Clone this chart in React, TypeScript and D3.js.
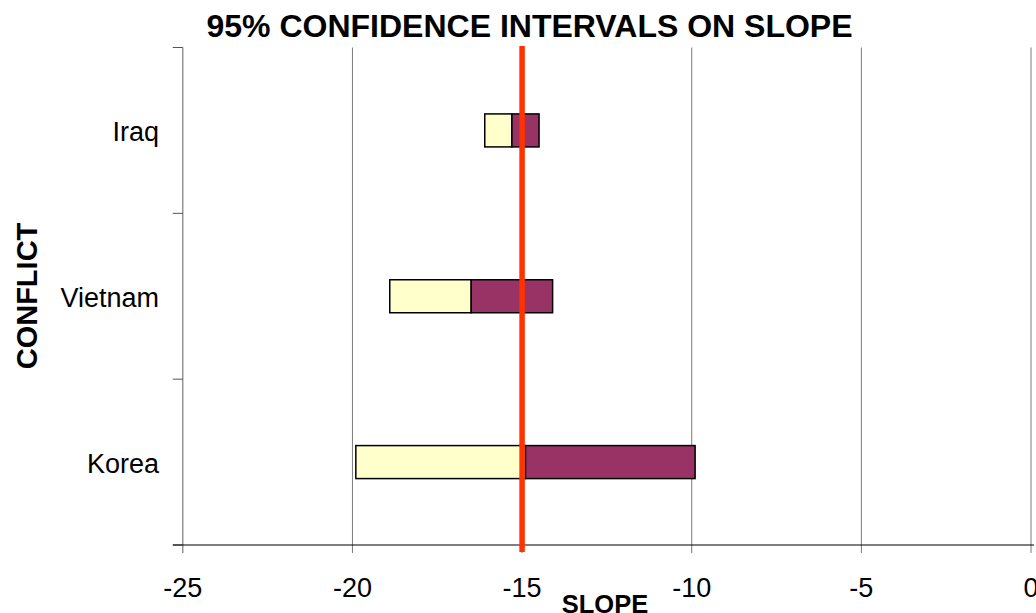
import React from "react";
import * as d3 from "d3";

const categories = ["Iraq", "Vietnam", "Korea"];
const lowerBound = [-16.1, -18.9, -19.9];
const pointEstimate = [-15.3, -16.5, -14.9];
const upperBound = [-14.5, -14.1, -9.9];
const referenceSlope = -15;
const xTicks = [-25, -20, -15, -10, -5, 0];

const W = 1036;
const H = 613;
const FONT = "'Liberation Sans', Arial, sans-serif";

export default function App() {
  const left = 182.8;
  const right = 1031;
  const top = 47.5;
  const bottom = 545;
  const x = d3.scaleLinear().domain([-25, 0]).range([left, right]);
  const y = d3.scaleBand<string>().domain(categories).range([top, bottom]).paddingInner(0).paddingOuter(0);
  const barH = 33;
  const bandEdges = d3.range(categories.length + 1).map((i) => top + i * y.step());

  return (
    <svg
      width={W}
      height={H}
      style={{ position: "absolute", left: 0, top: 0, background: "#fff", display: "block" }}
    >
      <rect x={0} y={0} width={W} height={H} fill="#fff" />
      {/* gridlines + x ticks */}
      {xTicks.slice(1).map((t) => (
        <line key={"g" + t} x1={x(t)} x2={x(t)} y1={top} y2={bottom + 8} stroke="#7a7a7a" strokeWidth={1} />
      ))}
      {/* y axis */}
      <line x1={x(-25)} x2={x(-25)} y1={top} y2={bottom + 8} stroke="#7a7a7a" strokeWidth={1.2} />
      {bandEdges.map((e, i) => (
        <line key={"yt" + i} x1={x(-25) - 10} x2={x(-25)} y1={e} y2={e} stroke="#555" strokeWidth={1} />
      ))}
      {/* x axis */}
      <line x1={x(-25) - 10} x2={right + 3} y1={bottom} y2={bottom} stroke="#000" strokeWidth={1.2} />

      {/* bars */}
      {categories.map((c, i) => {
        const cy = (y(c) as number) + y.bandwidth() / 2;
        return (
          <g key={c}>
            <rect
              x={x(lowerBound[i])}
              y={cy - barH / 2}
              width={x(pointEstimate[i]) - x(lowerBound[i])}
              height={barH}
              fill="#FFFFCC"
              stroke="#000"
              strokeWidth={1.5}
            />
            <rect
              x={x(pointEstimate[i])}
              y={cy - barH / 2}
              width={x(upperBound[i]) - x(pointEstimate[i])}
              height={barH}
              fill="#993366"
              stroke="#000"
              strokeWidth={1.5}
            />
            <text
              x={159}
              y={cy + 10.5}
              textAnchor="end"
              fontFamily={FONT}
              fontSize={27}
              fill="#000"
            >
              {c}
            </text>
          </g>
        );
      })}

      {/* reference line */}
      <line
        x1={x(referenceSlope)}
        x2={x(referenceSlope)}
        y1={top - 1.5}
        y2={bottom + 7}
        stroke="#FF3300"
        strokeWidth={5.5}
      />

      {/* x tick labels */}
      {xTicks.map((t) => (
        <text key={"xl" + t} x={x(t)} y={597} textAnchor="middle" fontFamily={FONT} fontSize={27} fill="#000">
          {t}
        </text>
      ))}

      {/* titles */}
      <text x={529.5} y={37} textAnchor="middle" fontFamily={FONT} fontSize={32} fontWeight="bold" fill="#000">
        95% CONFIDENCE INTERVALS ON SLOPE
      </text>
      <text x={605} y={613} textAnchor="middle" fontFamily={FONT} fontSize={25.5} fontWeight="bold" fill="#000">
        SLOPE
      </text>
      <text
        transform={`translate(37, 296) rotate(-90)`}
        textAnchor="middle"
        fontFamily={FONT}
        fontSize={29}
        fontWeight="bold"
        fill="#000"
      >
        CONFLICT
      </text>
    </svg>
  );
}
